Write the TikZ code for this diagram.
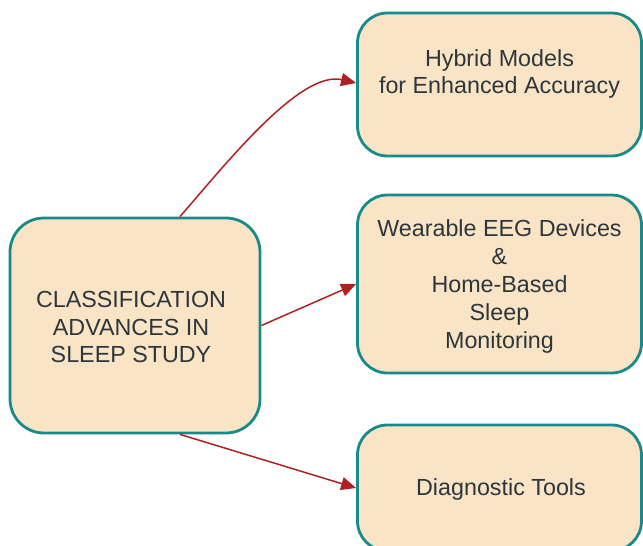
\documentclass[tikz,border=0pt]{standalone}
\usepackage{fontspec}
\setmainfont{Liberation Sans}
\usetikzlibrary{arrows.meta}

\definecolor{boxfill}{RGB}{250,228,198}
\definecolor{boxline}{RGB}{24,138,138}
\definecolor{linkred}{RGB}{176,32,32}
\definecolor{inkgray}{RGB}{44,54,60}

\tikzset{
  box/.style={draw=boxline, fill=boxfill, line width=2.8pt, inner sep=0pt},
  txt/.style={text=inkgray, align=center, inner sep=0pt,
    font=\fontsize{23.3pt}{27.8pt}\selectfont},
  link/.style={draw=linkred, line width=1.5pt,
    -{Triangle[length=15pt,width=13pt]}},
}

\begin{document}
\begin{tikzpicture}[x=1pt,y=-1pt]
  \useasboundingbox (0,0) rectangle (643,546);
  \clip (0,0) rectangle (643,546);

  % boxes
  \node[box, rounded corners=34pt, minimum width=250pt, minimum height=215pt]
    (clsf) at (135,325.5) {};
  \node[box, rounded corners=30pt, minimum width=284pt, minimum height=143pt]
    (hyb) at (499.5,84.5) {};
  \node[box, rounded corners=30pt, minimum width=284pt, minimum height=178pt]
    (wear) at (499.5,284) {};
  \node[box, rounded corners=30pt, minimum width=284pt, minimum height=126pt]
    (diag) at (499.5,488) {};

  % texts
  \node[txt] (clsft) at ([xshift=-4pt,yshift=-1.5pt]clsf.center)
    {CLASSIFICATION\\ADVANCES IN\\SLEEP STUDY};
  \node[txt] (hybt) at ([yshift=10.5pt]hyb.center)
    {Hybrid Models\\for Enhanced Accuracy};
  \node[txt] (weart) at ([yshift=-2.5pt]wear.center)
    {Wearable EEG Devices\\\&\\Home-Based\\Sleep\\Monitoring};
  \node[txt] (diagt) at ([xshift=1.5pt,yshift=-1.5pt]diag.center) {Diagnostic Tools};

  % connectors
  \draw[link] ([xshift=45pt]clsf.north) .. controls (225,165) and (300,70) .. ([yshift=1.5pt]hyb.west);
  \draw[link] (clsf.east) -- (wear.west);
  \draw[link] ([xshift=45pt]clsf.south) -- (diag.west);
\end{tikzpicture}
\end{document}
